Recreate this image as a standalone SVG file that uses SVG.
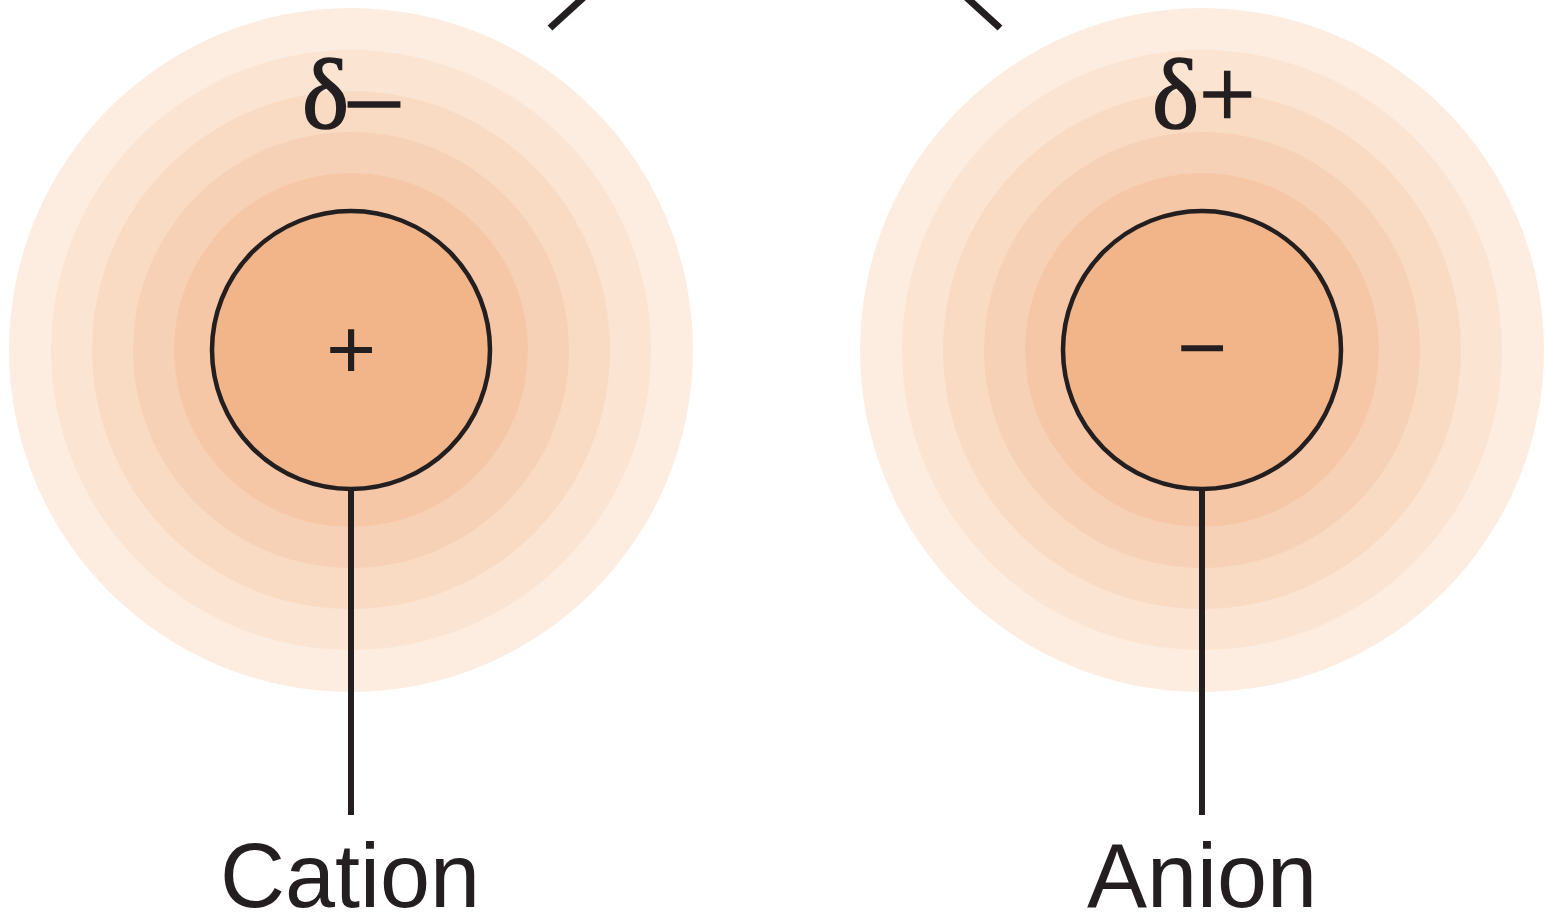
<svg xmlns="http://www.w3.org/2000/svg" width="1545" height="922" viewBox="0 0 1545 922">
<defs>
<style>
.r1{fill:#fdede0}.r2{fill:#fbe4d2}.r3{fill:#f9dbc4}.r4{fill:#f7d1b6}.r5{fill:#f5c7a6}
.core{fill:#f1b589;stroke:#231f20;stroke-width:4.5}
.ln{stroke:#231f20;stroke-width:6;fill:none}
.lbl{font-family:"Liberation Sans",Arial,sans-serif;font-size:90px;fill:#231f20;text-anchor:middle}
.sym{font-family:"Liberation Sans",Arial,sans-serif;font-size:86px;fill:#231f20;text-anchor:middle}
.del{font-family:"Liberation Serif","Times New Roman",serif;font-size:100px;fill:#231f20;stroke:#231f20;stroke-width:1.5}
</style>
</defs>
<rect width="1545" height="922" fill="#ffffff"/>
<g id="cation">
<circle class="r1" cx="351" cy="350" r="342"/>
<circle class="r2" cx="351" cy="350" r="300"/>
<circle class="r3" cx="351" cy="350" r="259"/>
<circle class="r4" cx="351" cy="350" r="218"/>
<circle class="r5" cx="351" cy="350" r="177"/>
<circle class="core" cx="351" cy="350" r="139"/>
<text class="sym" x="351" y="379">+</text>
<text class="del" x="302" y="128">δ–</text>
<text class="lbl" x="350" y="907">Cation</text>
</g>
<g id="anion">
<circle class="r1" cx="1202" cy="350" r="342"/>
<circle class="r2" cx="1202" cy="350" r="300"/>
<circle class="r3" cx="1202" cy="350" r="259"/>
<circle class="r4" cx="1202" cy="350" r="218"/>
<circle class="r5" cx="1202" cy="350" r="177"/>
<circle class="core" cx="1202" cy="350" r="139"/>
<text class="sym" x="1202" y="377">−</text>
<text class="del" x="1152" y="128">δ+</text>
<text class="lbl" x="1202" y="907">Anion</text>
</g>
<g id="connectors">
<line class="ln" x1="351" y1="489" x2="351" y2="815"/>
<line class="ln" x1="1202" y1="489" x2="1202" y2="815"/>
<line class="ln" x1="550" y1="28" x2="584" y2="-3" style="stroke-width:7"/>
<line class="ln" x1="1000" y1="28" x2="966" y2="-3" style="stroke-width:7"/>
</g>
</svg>
